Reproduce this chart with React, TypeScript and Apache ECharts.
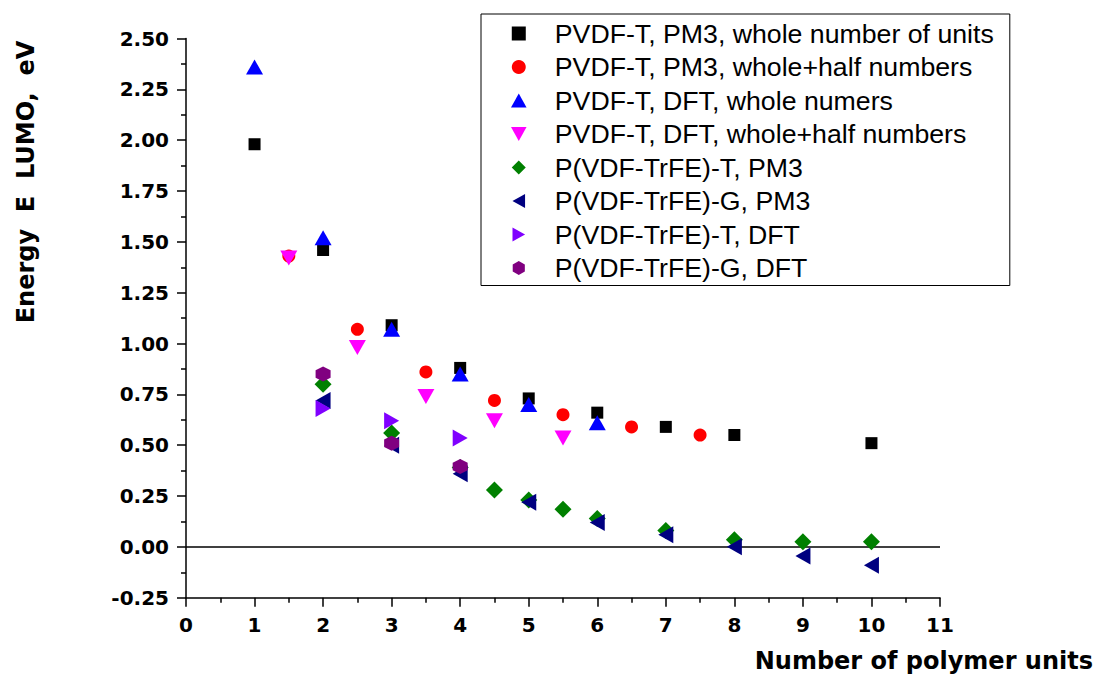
import React, { useEffect, useRef } from "react";
import * as echarts from "echarts";

// ---- Data ----
const seriesNames = [
  "PVDF-T, PM3, whole number of units",
  "PVDF-T, PM3, whole+half numbers",
  "PVDF-T, DFT, whole numers",
  "PVDF-T, DFT, whole+half numbers",
  "P(VDF-TrFE)-T, PM3",
  "P(VDF-TrFE)-G, PM3",
  "P(VDF-TrFE)-T, DFT",
  "P(VDF-TrFE)-G, DFT",
];

const pvdfPm3WholeX = [1, 2, 3, 4, 5, 6, 7, 8, 10];
const pvdfPm3WholeY = [1.98, 1.46, 1.09, 0.88, 0.73, 0.66, 0.59, 0.55, 0.51];

const pvdfPm3HalfX = [1.5, 2.5, 3.5, 4.5, 5.5, 6.5, 7.5];
const pvdfPm3HalfY = [1.43, 1.07, 0.86, 0.72, 0.65, 0.59, 0.55];

const pvdfDftWholeX = [1, 2, 3, 4, 5, 6];
const pvdfDftWholeY = [2.36, 1.52, 1.07, 0.85, 0.7, 0.61];

const pvdfDftHalfX = [1.5, 2.5, 3.5, 4.5, 5.5];
const pvdfDftHalfY = [1.42, 0.98, 0.74, 0.62, 0.535];

const trfeTPm3X = [2, 3, 4, 4.5, 5, 5.5, 6, 7, 8, 9, 10];
const trfeTPm3Y = [0.8, 0.56, 0.39, 0.28, 0.23, 0.185, 0.14, 0.08, 0.035, 0.025, 0.025];

const trfeGPm3X = [2, 3, 4, 5, 6, 7, 8, 9, 10];
const trfeGPm3Y = [0.72, 0.5, 0.36, 0.22, 0.12, 0.06, 0.0, -0.045, -0.09];

const trfeTDftX = [2, 3, 4];
const trfeTDftY = [0.68, 0.62, 0.535];

const trfeGDftX = [2, 3, 4];
const trfeGDftY = [0.85, 0.51, 0.395];

const xMin = 0;
const xMax = 11;
const yMin = -0.25;
const yMax = 2.5;

const yTitle = "Energy  E  LUMO,  eV";
const xTitle = "Number of polymer units";

// ---- Styling ----
const colors = ["#000000", "#ff0000", "#0000ff", "#ff00ff", "#008000", "#000080", "#8000ff", "#800080"];
const symbols = [
  "path://M0,0 L10,0 L10,10 L0,10 Z",
  "circle",
  "path://M5,0 L10,9 L0,9 Z",
  "path://M0,0 L10,0 L5,9 Z",
  "path://M5,0 L10,5 L5,10 L0,5 Z",
  "path://M9,0 L9,10 L0,5 Z",
  "path://M0,0 L0,10 L9,5 Z",
  "path://M5,0 L9.33,2.5 L9.33,7.5 L5,10 L0.67,7.5 L0.67,2.5 Z",
];
const symbolSizes: any[] = [12, 13, [17, 15], [17, 15], [17, 17], [15, 17], [15, 17], 15];

function pairs(xs: number[], ys: number[]) {
  return xs.map((x, i) => [x, ys[i]]);
}

const seriesData = [
  pairs(pvdfPm3WholeX, pvdfPm3WholeY),
  pairs(pvdfPm3HalfX, pvdfPm3HalfY),
  pairs(pvdfDftWholeX, pvdfDftWholeY),
  pairs(pvdfDftHalfX, pvdfDftHalfY),
  pairs(trfeTPm3X, trfeTPm3Y),
  pairs(trfeGPm3X, trfeGPm3Y),
  pairs(trfeTDftX, trfeTDftY),
  pairs(trfeGDftX, trfeGDftY),
];

export default function App() {
  const ref = useRef<HTMLDivElement>(null);

  useEffect(() => {
    document.body.style.margin = "0";
    const chart = echarts.init(ref.current as HTMLDivElement, null, { renderer: "svg" });

    const axisCommon = {
      type: "value",
      axisLine: { show: true, onZero: false, lineStyle: { color: "#000", width: 1.5 } },
      axisTick: { show: true, inside: false, length: 9, lineStyle: { color: "#000", width: 1.5 } },
      minorTick: { show: true, splitNumber: 2, length: 5, lineStyle: { color: "#000", width: 1.5 } },
      splitLine: { show: false },
      minorSplitLine: { show: false },
    };

    const series: any[] = seriesNames.map((name, i) => ({
      name,
      type: "scatter",
      data: seriesData[i],
      symbol: symbols[i],
      symbolSize: symbolSizes[i],
      symbolKeepAspect: false,
      itemStyle: { color: colors[i], opacity: 1 },
      z: 2 + i,
    }));

    series[0].markLine = {
      silent: true,
      symbol: ["none", "none"],
      label: { show: false },
      lineStyle: { color: "#000", width: 1.5, type: "solid" },
      data: [{ yAxis: 0 }],
      z: 1,
    };

    chart.setOption({
      animation: false,
      backgroundColor: "#ffffff",
      grid: { left: 186, right: 155, top: 38.5, bottom: 77.3, containLabel: false },
      xAxis: {
        ...axisCommon,
        min: xMin,
        max: xMax,
        interval: 1,
        axisLabel: {
          fontFamily: "DejaVu Sans",
          fontWeight: "bold",
          fontSize: 20,
          color: "#000",
          margin: 17,
        },
      },
      yAxis: {
        ...axisCommon,
        min: yMin,
        max: yMax,
        interval: 0.25,
        axisLabel: {
          fontFamily: "DejaVu Sans",
          fontWeight: "bold",
          fontSize: 20,
          color: "#000",
          margin: 17,
          formatter: (v: number) => v.toFixed(2),
        },
      },
      legend: {
        orient: "vertical",
        left: 481,
        top: 14,
        padding: [6, 16, 4, 30],
        itemWidth: 62,
        itemHeight: 14,
        itemGap: 6.5,
        symbolKeepAspect: true,
        borderColor: "#000",
        borderWidth: 1,
        backgroundColor: "#fff",
        textStyle: {
          fontFamily: "Liberation Sans, Arial, sans-serif",
          fontSize: 26.7,
          lineHeight: 26,
          color: "#000",
        },
        data: seriesNames,
      },
      graphic: [
        {
          type: "text",
          x: 26,
          y: 182,
          rotation: Math.PI / 2,
          style: {
            text: yTitle,
            fontFamily: "DejaVu Sans",
            fontWeight: "bold",
            fontSize: 24,
            fill: "#000",
            textAlign: "center",
            textVerticalAlign: "middle",
          },
        },
        {
          type: "text",
          x: 1093,
          y: 661,
          style: {
            text: xTitle,
            fontFamily: "DejaVu Sans",
            fontWeight: "bold",
            fontSize: 24,
            fill: "#000",
            textAlign: "right",
            textVerticalAlign: "middle",
          },
        },
      ],
      series,
    });

    return () => {
      chart.dispose();
    };
  }, []);

  return <div ref={ref} style={{ width: 1095, height: 675 }} />;
}
